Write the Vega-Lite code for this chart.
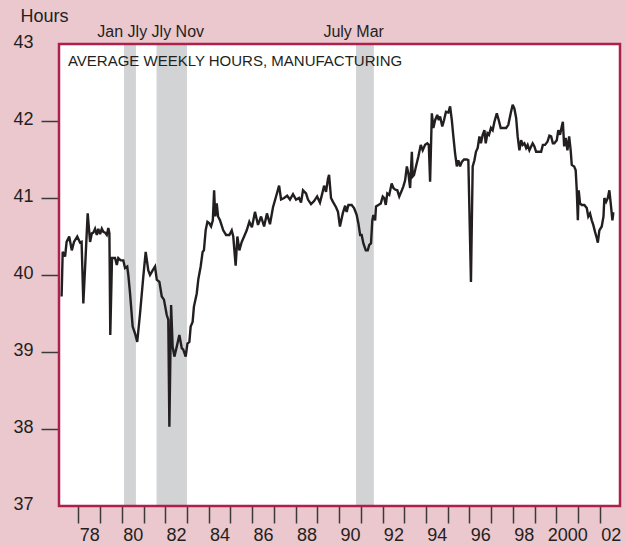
{
  "$schema": "https://vega.github.io/schema/vega-lite/v6.json",
  "width": 561,
  "height": 462,
  "autosize": {"type": "none"},
  "padding": {"left": 59, "top": 44, "right": 6, "bottom": 40},
  "background": "#EBC7CE",
  "config": {
    "view": {"fill": "white", "stroke": "transparent"},
    "font": "Liberation Sans",
    "axis": {"grid": false, "domain": false}
  },
  "datasets": {
    "recessions": [
      {"start": 1980.1, "end": 1980.65},
      {"start": 1981.6, "end": 1983.0},
      {"start": 1990.78, "end": 1991.6}
    ],
    "hours": [
      {"t": 1977.23, "v": 39.72}, {"t": 1977.28, "v": 40.30}, {"t": 1977.39, "v": 40.24}, {"t": 1977.46, "v": 40.43},
      {"t": 1977.58, "v": 40.50}, {"t": 1977.70, "v": 40.32}, {"t": 1977.80, "v": 40.43}, {"t": 1977.95, "v": 40.50},
      {"t": 1978.08, "v": 40.42}, {"t": 1978.15, "v": 40.43}, {"t": 1978.23, "v": 39.63}, {"t": 1978.32, "v": 40.15},
      {"t": 1978.43, "v": 40.80}, {"t": 1978.54, "v": 40.43}, {"t": 1978.62, "v": 40.54}, {"t": 1978.69, "v": 40.55},
      {"t": 1978.77, "v": 40.60}, {"t": 1978.85, "v": 40.52}, {"t": 1978.92, "v": 40.60}, {"t": 1979.00, "v": 40.53},
      {"t": 1979.08, "v": 40.60}, {"t": 1979.15, "v": 40.56}, {"t": 1979.23, "v": 40.55}, {"t": 1979.31, "v": 40.52},
      {"t": 1979.38, "v": 40.61}, {"t": 1979.43, "v": 40.54}, {"t": 1979.47, "v": 39.22}, {"t": 1979.55, "v": 40.22},
      {"t": 1979.69, "v": 40.22}, {"t": 1979.77, "v": 40.13}, {"t": 1979.84, "v": 40.22}, {"t": 1979.95, "v": 40.19},
      {"t": 1980.07, "v": 40.19}, {"t": 1980.15, "v": 40.09}, {"t": 1980.25, "v": 40.11}, {"t": 1980.30, "v": 40.00},
      {"t": 1980.38, "v": 39.76}, {"t": 1980.50, "v": 39.33}, {"t": 1980.61, "v": 39.24}, {"t": 1980.71, "v": 39.13},
      {"t": 1980.84, "v": 39.50}, {"t": 1980.99, "v": 39.98}, {"t": 1981.10, "v": 40.30}, {"t": 1981.22, "v": 40.06},
      {"t": 1981.30, "v": 40.00}, {"t": 1981.42, "v": 40.06}, {"t": 1981.53, "v": 40.11}, {"t": 1981.61, "v": 39.94},
      {"t": 1981.73, "v": 39.91}, {"t": 1981.84, "v": 39.72}, {"t": 1981.94, "v": 39.68}, {"t": 1982.07, "v": 39.48},
      {"t": 1982.14, "v": 39.42}, {"t": 1982.19, "v": 38.03}, {"t": 1982.27, "v": 39.61}, {"t": 1982.34, "v": 39.07},
      {"t": 1982.42, "v": 38.94}, {"t": 1982.53, "v": 39.07}, {"t": 1982.65, "v": 39.22}, {"t": 1982.76, "v": 39.05},
      {"t": 1982.83, "v": 39.03}, {"t": 1982.94, "v": 38.94}, {"t": 1983.02, "v": 39.11}, {"t": 1983.11, "v": 39.13},
      {"t": 1983.17, "v": 39.33}, {"t": 1983.26, "v": 39.39}, {"t": 1983.32, "v": 39.59}, {"t": 1983.45, "v": 39.76},
      {"t": 1983.52, "v": 39.94}, {"t": 1983.63, "v": 40.11}, {"t": 1983.72, "v": 40.30}, {"t": 1983.78, "v": 40.32},
      {"t": 1983.86, "v": 40.58}, {"t": 1983.94, "v": 40.69}, {"t": 1984.03, "v": 40.67}, {"t": 1984.11, "v": 40.63},
      {"t": 1984.19, "v": 40.71}, {"t": 1984.25, "v": 41.10}, {"t": 1984.30, "v": 40.76}, {"t": 1984.37, "v": 40.93},
      {"t": 1984.43, "v": 40.76}, {"t": 1984.52, "v": 40.71}, {"t": 1984.67, "v": 40.58}, {"t": 1984.80, "v": 40.52},
      {"t": 1984.95, "v": 40.52}, {"t": 1985.06, "v": 40.58}, {"t": 1985.13, "v": 40.50}, {"t": 1985.24, "v": 40.12},
      {"t": 1985.32, "v": 40.50}, {"t": 1985.41, "v": 40.32}, {"t": 1985.52, "v": 40.43}, {"t": 1985.63, "v": 40.50},
      {"t": 1985.75, "v": 40.58}, {"t": 1985.87, "v": 40.69}, {"t": 1985.99, "v": 40.62}, {"t": 1986.13, "v": 40.82},
      {"t": 1986.27, "v": 40.65}, {"t": 1986.41, "v": 40.76}, {"t": 1986.55, "v": 40.63}, {"t": 1986.68, "v": 40.80},
      {"t": 1986.82, "v": 40.66}, {"t": 1986.96, "v": 40.88}, {"t": 1987.10, "v": 41.02}, {"t": 1987.24, "v": 41.16},
      {"t": 1987.33, "v": 40.98}, {"t": 1987.47, "v": 41.00}, {"t": 1987.61, "v": 41.03}, {"t": 1987.74, "v": 40.98},
      {"t": 1987.88, "v": 41.05}, {"t": 1988.02, "v": 40.98}, {"t": 1988.16, "v": 41.00}, {"t": 1988.25, "v": 40.94},
      {"t": 1988.34, "v": 41.10}, {"t": 1988.48, "v": 41.06}, {"t": 1988.57, "v": 40.98}, {"t": 1988.71, "v": 40.92},
      {"t": 1988.85, "v": 40.96}, {"t": 1988.99, "v": 41.02}, {"t": 1989.12, "v": 40.94}, {"t": 1989.22, "v": 41.05},
      {"t": 1989.31, "v": 41.16}, {"t": 1989.40, "v": 41.08}, {"t": 1989.49, "v": 41.25}, {"t": 1989.54, "v": 41.30},
      {"t": 1989.63, "v": 41.00}, {"t": 1989.72, "v": 40.95}, {"t": 1989.86, "v": 40.88}, {"t": 1989.95, "v": 40.82},
      {"t": 1990.04, "v": 40.63}, {"t": 1990.17, "v": 40.80}, {"t": 1990.28, "v": 40.90}, {"t": 1990.35, "v": 40.82},
      {"t": 1990.43, "v": 40.91}, {"t": 1990.58, "v": 40.91}, {"t": 1990.69, "v": 40.87}, {"t": 1990.81, "v": 40.78},
      {"t": 1990.89, "v": 40.67}, {"t": 1990.97, "v": 40.52}, {"t": 1991.04, "v": 40.52}, {"t": 1991.12, "v": 40.41},
      {"t": 1991.23, "v": 40.32}, {"t": 1991.32, "v": 40.32}, {"t": 1991.39, "v": 40.39}, {"t": 1991.47, "v": 40.41},
      {"t": 1991.53, "v": 40.71}, {"t": 1991.58, "v": 40.78}, {"t": 1991.66, "v": 40.71}, {"t": 1991.70, "v": 40.89},
      {"t": 1991.81, "v": 40.91}, {"t": 1991.92, "v": 40.93}, {"t": 1992.01, "v": 41.02}, {"t": 1992.08, "v": 41.00},
      {"t": 1992.15, "v": 40.91}, {"t": 1992.22, "v": 41.06}, {"t": 1992.31, "v": 41.04}, {"t": 1992.42, "v": 41.19},
      {"t": 1992.50, "v": 41.13}, {"t": 1992.58, "v": 41.11}, {"t": 1992.68, "v": 41.10}, {"t": 1992.77, "v": 41.02},
      {"t": 1992.89, "v": 41.10}, {"t": 1992.96, "v": 41.15}, {"t": 1993.04, "v": 41.23}, {"t": 1993.12, "v": 41.41},
      {"t": 1993.19, "v": 41.32}, {"t": 1993.27, "v": 41.13}, {"t": 1993.35, "v": 41.60}, {"t": 1993.39, "v": 41.28},
      {"t": 1993.45, "v": 41.30}, {"t": 1993.54, "v": 41.41}, {"t": 1993.65, "v": 41.54}, {"t": 1993.76, "v": 41.69},
      {"t": 1993.85, "v": 41.62}, {"t": 1993.96, "v": 41.69}, {"t": 1994.06, "v": 41.71}, {"t": 1994.13, "v": 41.69},
      {"t": 1994.19, "v": 41.21}, {"t": 1994.27, "v": 42.10}, {"t": 1994.34, "v": 41.91}, {"t": 1994.42, "v": 42.01},
      {"t": 1994.52, "v": 42.08}, {"t": 1994.59, "v": 42.01}, {"t": 1994.65, "v": 42.06}, {"t": 1994.75, "v": 41.93},
      {"t": 1994.83, "v": 42.01}, {"t": 1994.92, "v": 42.12}, {"t": 1995.03, "v": 42.11}, {"t": 1995.11, "v": 42.19},
      {"t": 1995.19, "v": 42.01}, {"t": 1995.26, "v": 41.80}, {"t": 1995.34, "v": 41.58}, {"t": 1995.42, "v": 41.41},
      {"t": 1995.49, "v": 41.49}, {"t": 1995.57, "v": 41.41}, {"t": 1995.65, "v": 41.47}, {"t": 1995.75, "v": 41.50},
      {"t": 1995.88, "v": 41.50}, {"t": 1995.95, "v": 41.49}, {"t": 1996.07, "v": 39.91}, {"t": 1996.15, "v": 41.41},
      {"t": 1996.23, "v": 41.49}, {"t": 1996.30, "v": 41.60}, {"t": 1996.38, "v": 41.65}, {"t": 1996.46, "v": 41.80},
      {"t": 1996.53, "v": 41.71}, {"t": 1996.61, "v": 41.82}, {"t": 1996.69, "v": 41.88}, {"t": 1996.75, "v": 41.71},
      {"t": 1996.83, "v": 41.84}, {"t": 1996.90, "v": 41.82}, {"t": 1996.99, "v": 41.91}, {"t": 1997.07, "v": 41.88},
      {"t": 1997.15, "v": 41.99}, {"t": 1997.26, "v": 42.10}, {"t": 1997.35, "v": 42.01}, {"t": 1997.44, "v": 41.91},
      {"t": 1997.56, "v": 41.91}, {"t": 1997.69, "v": 41.91}, {"t": 1997.79, "v": 41.95}, {"t": 1997.90, "v": 42.10},
      {"t": 1997.99, "v": 42.21}, {"t": 1998.07, "v": 42.16}, {"t": 1998.15, "v": 42.04}, {"t": 1998.22, "v": 41.80},
      {"t": 1998.30, "v": 41.62}, {"t": 1998.38, "v": 41.75}, {"t": 1998.45, "v": 41.69}, {"t": 1998.53, "v": 41.71},
      {"t": 1998.61, "v": 41.65}, {"t": 1998.68, "v": 41.69}, {"t": 1998.76, "v": 41.62}, {"t": 1998.84, "v": 41.67},
      {"t": 1998.91, "v": 41.71}, {"t": 1998.99, "v": 41.67}, {"t": 1999.07, "v": 41.60}, {"t": 1999.17, "v": 41.60},
      {"t": 1999.30, "v": 41.60}, {"t": 1999.38, "v": 41.69}, {"t": 1999.48, "v": 41.69}, {"t": 1999.59, "v": 41.73},
      {"t": 1999.68, "v": 41.81}, {"t": 1999.76, "v": 41.80}, {"t": 1999.84, "v": 41.71}, {"t": 1999.91, "v": 41.71},
      {"t": 2000.02, "v": 41.75}, {"t": 2000.09, "v": 41.88}, {"t": 2000.17, "v": 41.82}, {"t": 2000.25, "v": 41.93},
      {"t": 2000.30, "v": 41.99}, {"t": 2000.36, "v": 41.67}, {"t": 2000.43, "v": 41.78}, {"t": 2000.51, "v": 41.62},
      {"t": 2000.59, "v": 41.80}, {"t": 2000.66, "v": 41.62}, {"t": 2000.71, "v": 41.43}, {"t": 2000.82, "v": 41.41},
      {"t": 2000.89, "v": 41.36}, {"t": 2000.94, "v": 41.10}, {"t": 2000.99, "v": 40.71}, {"t": 2001.03, "v": 41.10},
      {"t": 2001.09, "v": 40.93}, {"t": 2001.17, "v": 40.91}, {"t": 2001.29, "v": 40.91}, {"t": 2001.40, "v": 40.87},
      {"t": 2001.47, "v": 40.76}, {"t": 2001.55, "v": 40.80}, {"t": 2001.63, "v": 40.71}, {"t": 2001.70, "v": 40.65},
      {"t": 2001.78, "v": 40.56}, {"t": 2001.86, "v": 40.48}, {"t": 2001.91, "v": 40.42}, {"t": 2001.98, "v": 40.58},
      {"t": 2002.09, "v": 40.63}, {"t": 2002.17, "v": 40.76}, {"t": 2002.21, "v": 41.00}, {"t": 2002.29, "v": 40.95},
      {"t": 2002.37, "v": 41.00}, {"t": 2002.44, "v": 41.10}, {"t": 2002.51, "v": 40.91}, {"t": 2002.58, "v": 40.71},
      {"t": 2002.62, "v": 40.80}, {"t": 2002.67, "v": 40.80}
    ]
  },
  "encoding": {
    "x": {
      "type": "quantitative",
      "scale": {"domain": [1977.11, 2002.93], "nice": false, "zero": false},
      "axis": {
        "title": null,
        "values": [1978, 1978.5, 1979, 1980, 1980.5, 1981, 1982, 1982.5, 1983, 1984, 1984.5, 1985, 1986, 1986.5, 1987, 1988, 1988.5, 1989, 1990, 1990.5, 1991, 1992, 1992.5, 1993, 1994, 1994.5, 1995, 1996, 1996.5, 1997, 1998, 1998.5, 1999, 2000, 2000.5, 2001, 2002, 2002.5],
        "labelExpr": "datum.value % 1 == 0 ? '' : (floor(datum.value) == 2000 ? '2000' : substring(toString(floor(datum.value)), 2, 4))",
        "tickColor": {"condition": {"test": "datum.value % 1 != 0", "value": "transparent"}, "value": "#3a3a3a"},
        "tickSize": 17,
        "tickWidth": 1.5,
        "labelFontSize": 18,
        "labelColor": "#231F20",
        "labelPadding": 3,
        "labelFlush": false,
        "labelOverlap": false
      }
    },
    "y": {
      "type": "quantitative",
      "scale": {"domain": [37, 43], "nice": false, "zero": false},
      "axis": {
        "title": "Hours",
        "titleAngle": 0,
        "titleAlign": "left",
        "titleBaseline": "middle",
        "titleX": -39,
        "titleY": -28,
        "titleFontSize": 18,
        "titleFontWeight": "normal",
        "titleColor": "#231F20",
        "values": [37, 38, 39, 40, 41, 42, 43],
        "tickColor": {"condition": {"test": "datum.value == 37 || datum.value == 43", "value": "transparent"}, "value": "#3a3a3a"},
        "tickSize": 18,
        "tickWidth": 1.5,
        "labelFontSize": 18,
        "labelColor": "#231F20",
        "labelPadding": 8,
        "labelOffset": -2,
        "labelFlush": false,
        "labelOverlap": false
      }
    }
  },
  "layer": [
    {
      "data": {"values": [{}]},
      "mark": {"type": "rect", "fill": "white"},
      "encoding": {"x": null, "y": null}
    },
    {
      "data": {"name": "recessions"},
      "mark": {"type": "rect", "fill": "#D1D3D5"},
      "encoding": {
        "x": {"field": "start"},
        "x2": {"field": "end"},
        "y": null
      }
    },
    {
      "data": {"name": "hours"},
      "mark": {"type": "line", "color": "#231F20", "strokeWidth": 2.4, "strokeJoin": "miter", "strokeMiterLimit": 3},
      "encoding": {
        "x": {"field": "t"},
        "y": {"field": "v"}
      }
    },
    {
      "data": {"values": [{"label": "Jan Jly Jly Nov", "x": 1981.33}, {"label": "July Mar", "x": 1990.67}]},
      "mark": {"type": "text", "fontSize": 16, "align": "center", "baseline": "alphabetic", "color": "#231F20"},
      "encoding": {
        "x": {"field": "x"},
        "y": {"datum": 43.09},
        "text": {"field": "label"}
      }
    },
    {
      "data": {"values": [{"label": "AVERAGE WEEKLY HOURS, MANUFACTURING"}]},
      "mark": {"type": "text", "fontSize": 15, "align": "left", "baseline": "alphabetic", "color": "#231F20"},
      "encoding": {
        "x": {"datum": 1977.52},
        "y": {"datum": 42.72},
        "text": {"field": "label"}
      }
    },
    {
      "data": {"values": [{}]},
      "mark": {"type": "rect", "fill": "transparent", "stroke": "#AC214C", "strokeWidth": 2.5},
      "encoding": {"x": null, "y": null}
    }
  ]
}
